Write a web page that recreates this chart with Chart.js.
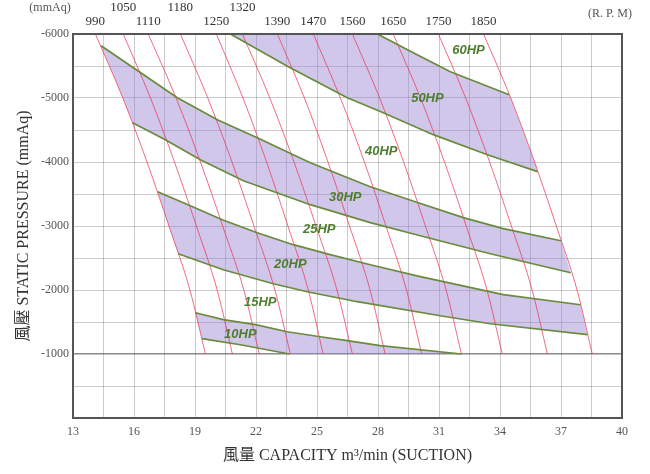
<!DOCTYPE html>
<html>
<head>
<meta charset="utf-8">
<script src="https://cdn.jsdelivr.net/npm/chart.js@4.4.0/dist/chart.umd.min.js"></script>
<style>
  html, body { margin: 0; padding: 0; background: #fff; }
  #wrap { width: 650px; height: 474px; }
</style>
</head>
<body>
<div id="wrap"><canvas id="fanChart"></canvas></div>
<script>
// RPM curves: capacity (m3/min) at each pressure level
const rpmLabels = ['990', '1050', '1110', '1180', '1250', '1320', '1390', '1470', '1560', '1650', '1750', '1850'];
const rpmLevels = [6000, 5000, 4000, 3000, 2000, 1000];
const rpmX = [
    [14.10, 15.45, 16.64, 17.72, 18.75, 19.51],
    [15.47, 16.81, 17.99, 19.07, 20.09, 20.84],
    [16.70, 18.07, 19.27, 20.36, 21.40, 22.16],
    [18.28, 19.63, 20.82, 21.90, 22.93, 23.69],
    [20.05, 21.36, 22.52, 23.57, 24.57, 25.30],
    [21.33, 22.68, 23.87, 24.95, 25.98, 26.74],
    [23.05, 24.38, 25.54, 26.60, 27.61, 28.35],
    [24.82, 26.15, 27.33, 28.39, 29.40, 30.15],
    [26.74, 28.08, 29.26, 30.33, 31.35, 32.10],
    [28.75, 30.09, 31.27, 32.34, 33.36, 34.11],
    [30.97, 32.31, 33.49, 34.56, 35.58, 36.33],
    [33.19, 34.53, 35.70, 36.77, 37.79, 38.54]
];

// HP curves [capacity, static pressure]
const hp60 = [[27.97, 6000], [29.83, 5692], [31.56, 5411], [34.45, 5050]];
const hp50 = [[20.74, 6000], [23.59, 5489], [26.49, 5005], [28.26, 4770], [30.72, 4427], [33.38, 4114], [35.85, 3850]];
const hp40 = [[14.38, 5817], [15.97, 5473], [18.13, 5005], [20.10, 4661], [22.06, 4380], [24.67, 3989], [27.62, 3614], [29.98, 3364], [32.20, 3130], [34.16, 2958], [37.00, 2770]];
const hp30 = [[15.93, 4614], [17.54, 4348], [19.26, 4036], [21.38, 3708], [24.67, 3333], [27.62, 3052], [30.08, 2848], [33.52, 2567], [37.48, 2270]];
const hp25 = [[17.16, 3536], [18.77, 3317], [20.34, 3098], [22.06, 2895], [23.83, 2708], [25.65, 2552], [27.62, 2395], [30.08, 2208], [34.16, 1927], [37.96, 1770]];
const hp20 = [[18.17, 2567], [20.39, 2317], [22.85, 2098], [24.52, 1973], [26.98, 1817], [31.06, 1598], [33.52, 1473], [38.30, 1302]];
const hp15 = [[19.02, 1645], [20.39, 1536], [21.97, 1458], [23.54, 1348], [25.16, 1270], [26.49, 1208], [28.11, 1130], [32.10, 1000]];
const hp10 = [[19.34, 1239], [21.23, 1145], [23.64, 1000]];

const hpNames = ['60HP', '50HP', '40HP', '30HP', '25HP', '20HP', '15HP', '10HP'];
const hpLabelAt = [[32.45, 5740], [30.43, 4989], [28.16, 4161], [26.39, 3442], [25.11, 2942], [23.69, 2395], [22.21, 1802], [21.23, 1302]];

const xTickLabels = [13, 16, 19, 22, 25, 28, 31, 34, 37, 40];
const yTickLabels = [1000, 2000, 3000, 4000, 5000, 6000];

// operating bands: between two HP curves, cut by the 990 / 1850 rpm curves
const bands = [
    { upper: hp60, lower: hp50, left: null, right: 11 },
    { upper: hp40, lower: hp30, left: 0, right: 11 },
    { upper: hp25, lower: hp20, left: 0, right: 11 },
    { upper: hp15, lower: hp10, left: 0, right: null }
];

const serif = "'Liberation Serif', 'Noto Sans CJK TC', serif";
const gridColor = 'rgba(0,0,0,0.2)';
const toPts = arr => arr.map(([x, y]) => ({ x, y }));

function along(line, yFrom, yTo) {
    const lo = Math.min(yFrom, yTo), hi = Math.max(yFrom, yTo);
    const pts = rpmLevels.map((y, i) => [rpmX[line][i], y]).filter(p => p[1] > lo && p[1] < hi);
    if (yFrom < yTo) pts.reverse();
    return pts;
}

function bandPolygon(b) {
    const u = b.upper, l = b.lower;
    let pts = [...u];
    if (b.right !== null) pts = pts.concat(along(b.right, u[u.length - 1][1], l[l.length - 1][1]));
    pts = pts.concat([...l].reverse());
    if (b.left !== null) pts = pts.concat(along(b.left, l[0][1], u[0][1]));
    pts.push(u[0]);
    return toPts(pts);
}

const datasets = [];

bands.forEach(b => {
    datasets.push({
        data: bandPolygon(b),
        fill: 'shape',
        backgroundColor: 'rgba(150,130,210,0.45)',
        borderWidth: 0,
        pointRadius: 0,
        tension: 0,
        order: 3
    });
});

rpmX.forEach(xs => {
    datasets.push({
        data: rpmLevels.map((y, i) => ({ x: xs[i], y })),
        borderColor: 'rgba(235,50,80,0.8)',
        borderWidth: 0.9,
        pointRadius: 0,
        cubicInterpolationMode: 'monotone',
        fill: false,
        order: 1
    });
});

[hp60, hp50, hp40, hp30, hp25, hp20, hp15, hp10].forEach(c => {
    datasets.push({
        data: toPts(c),
        borderColor: '#6a8a3c',
        borderWidth: 1.7,
        pointRadius: 0,
        tension: 0,
        fill: false,
        order: 0
    });
});

const textPlugin = {
    id: 'fanText',
    afterDraw(chart) {
        const { ctx, chartArea: a, scales: { x, y } } = chart;
        ctx.save();
        // frame
        ctx.strokeStyle = '#555';
        ctx.lineWidth = 2;
        ctx.strokeRect(a.left, a.top, a.right - a.left, a.bottom - a.top);

        // rpm labels
        ctx.font = '13px ' + serif;
        ctx.fillStyle = '#333';
        ctx.textAlign = 'center';
        ctx.textBaseline = 'middle';
        rpmLabels.forEach((lab, i) => {
            const raised = i % 2 === 1 && i < 6;
            ctx.fillText(lab, x.getPixelForValue(rpmX[i][0]), raised ? 8 : 22);
        });
        ctx.font = '12px ' + serif;
        ctx.fillStyle = '#555';
        ctx.fillText('(mmAq)', 50, 8);
        ctx.fillText('(R. P. M)', 610, 14);

        // HP labels
        ctx.font = "italic bold 13px 'Liberation Sans', Arial, sans-serif";
        ctx.fillStyle = '#4e7d2e';
        hpNames.forEach((n, i) => {
            ctx.fillText(n, x.getPixelForValue(hpLabelAt[i][0]), y.getPixelForValue(hpLabelAt[i][1]));
        });
        ctx.restore();
    }
};

new Chart(document.getElementById('fanChart'), {
    type: 'line',
    data: { datasets },
    options: {
        responsive: true,
        maintainAspectRatio: false,
        animation: false,
        devicePixelRatio: 1,
        layout: { padding: { top: 34, right: 28, left: 0, bottom: 0 } },
        plugins: {
            legend: { display: false },
            tooltip: { enabled: false }
        },
        scales: {
            x: {
                type: 'linear',
                min: 13,
                max: 40,
                z: 1,
                afterFit: s => { s.height = 56; },
                border: { display: false },
                grid: { color: gridColor, lineWidth: 1, drawTicks: false },
                ticks: {
                    stepSize: 1.5,
                    padding: 7,
                    autoSkip: false,
                    maxRotation: 0,
                    color: '#555',
                    font: { family: serif, size: 12 },
                    callback: v => xTickLabels.some(t => Math.abs(t - v) < 1e-6) ? String(Math.round(v)) : ''
                },
                title: {
                    display: true,
                    text: '風量 CAPACITY m³/min (SUCTION)',
                    color: '#333',
                    font: { family: serif, size: 16 },
                    padding: { top: 4, bottom: 9 }
                }
            },
            y: {
                min: 0,
                max: 6000,
                z: 1,
                afterFit: s => { s.width = 73; },
                border: { display: false },
                grid: {
                    color: ctx => ctx.tick && ctx.tick.value === 1000 ? 'rgba(60,60,60,0.6)' : gridColor,
                    lineWidth: ctx => ctx.tick && ctx.tick.value === 1000 ? 1.5 : 1,
                    drawTicks: false
                },
                ticks: {
                    stepSize: 500,
                    padding: 4,
                    autoSkip: false,
                    color: '#555',
                    font: { family: serif, size: 12 },
                    callback: v => yTickLabels.includes(v) ? '-' + v : ''
                },
                title: {
                    display: true,
                    text: '風壓 STATIC PRESSURE (mmAq)',
                    color: '#333',
                    font: { family: serif, size: 16 },
                    padding: { top: 14, bottom: 0 }
                }
            }
        }
    },
    plugins: [textPlugin]
});
</script>
</body>
</html>
